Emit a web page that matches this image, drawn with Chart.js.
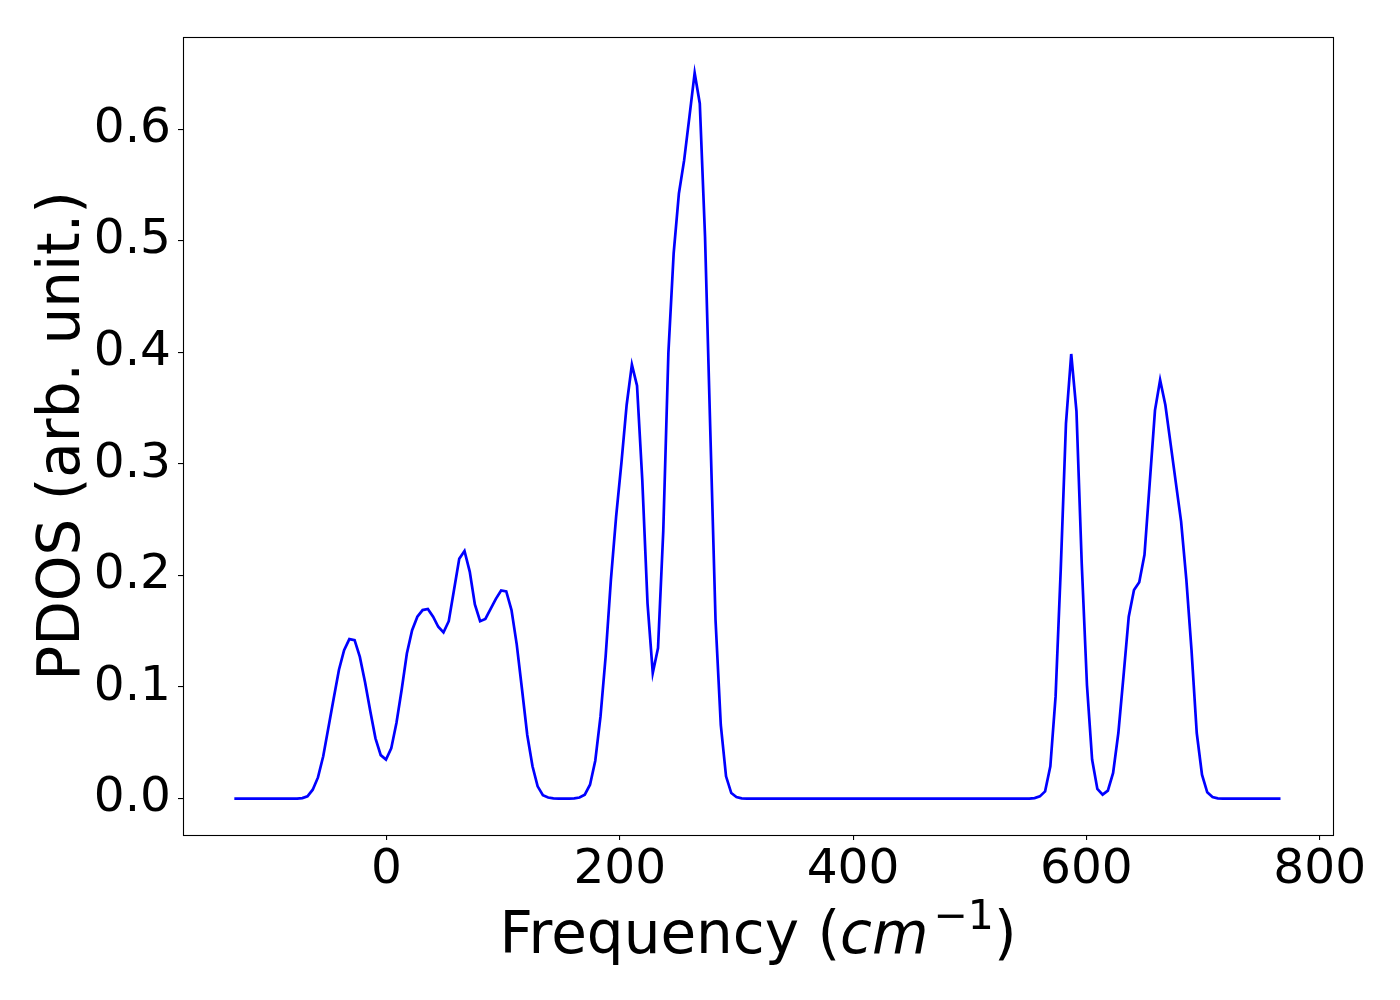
<!DOCTYPE html>
<html>
<head>
<meta charset="utf-8">
<script src="https://cdn.jsdelivr.net/npm/chart.js@4/dist/chart.umd.min.js"></script>
<style>
  html, body { margin: 0; padding: 0; background: #ffffff; }
  #wrap { width: 1400px; height: 1000px; position: relative; }
</style>
</head>
<body>
<div id="wrap"><canvas id="c" width="1400" height="1000"></canvas></div>
<script>
// Frequency grid points (cm^-1) (flat zero stretches keep only their ends)
const freq = [
  -130.4, -76.6, -72.1, -67.7, -63.2, -58.7, -54.2, -49.7, -45.2, -40.7, -36.3,
  -31.8, -27.3, -22.8, -18.3, -13.8, -9.4, -4.9, -0.4, 4.1, 8.6,
  13.1, 17.5, 22.0, 26.5, 31.0, 35.5, 40.0, 44.4, 48.9, 53.4,
  57.9, 62.4, 66.9, 71.4, 75.8, 80.3, 84.8, 89.3, 93.8, 98.3,
  102.7, 107.2, 111.7, 116.2, 120.7, 125.2, 129.6, 134.1, 138.6, 143.1,
  147.6, 156.5, 161.0, 165.5, 170.0, 174.5, 179.0, 183.5, 187.9, 192.4,
  196.9, 201.4, 205.9, 210.4, 214.8, 219.3, 223.8, 228.3, 232.8, 237.3,
  241.7, 246.2, 250.7, 255.2, 259.7, 264.2, 268.6, 273.1, 277.6, 282.1,
  286.6, 291.1, 295.6, 300.0, 304.5, 309.0,
  551.1, 555.6, 560.1, 564.6, 569.1, 573.6, 578.0, 582.5, 587.0, 591.5,
  596.0, 600.5, 604.9, 609.4, 613.9, 618.4, 622.9, 627.4, 631.8, 636.3,
  640.8, 645.3, 649.8, 654.3, 658.8, 663.2, 667.7, 672.2, 676.7, 681.2,
  685.7, 690.1, 694.6, 699.1, 703.6, 708.1, 712.6, 717.0, 766.4
];
// PDOS values (arb. unit.) at those frequencies
const pdos = [
  0, 0, 0.0005, 0.002, 0.008, 0.019, 0.038, 0.064, 0.090, 0.1155, 0.133,
  0.143, 0.142, 0.127, 0.104, 0.078, 0.054, 0.039, 0.035, 0.045, 0.068,
  0.098, 0.130, 0.151, 0.163, 0.169, 0.170, 0.163, 0.154, 0.149, 0.159,
  0.187, 0.215, 0.222, 0.2035, 0.174, 0.159, 0.161, 0.170, 0.179, 0.1865,
  0.1857, 0.169, 0.138, 0.098, 0.057, 0.029, 0.011, 0.003, 0.001, 0.0002,
  0, 0, 0.0003, 0.001, 0.0035, 0.0125, 0.034, 0.0737, 0.1275, 0.196,
  0.253, 0.3006, 0.3528, 0.389, 0.370, 0.2857, 0.175, 0.1126, 0.135, 0.24,
  0.40, 0.4887, 0.5424, 0.5722, 0.611, 0.6504, 0.623, 0.5035, 0.33, 0.16,
  0.066, 0.02, 0.005, 0.0015, 0.0003, 0,
  0, 0.0005, 0.002, 0.0065, 0.029, 0.0916, 0.205, 0.3364, 0.3985, 0.347,
  0.211, 0.1016, 0.035, 0.0087, 0.0036, 0.0072, 0.023, 0.0588, 0.1095, 0.163,
  0.187, 0.194, 0.2185, 0.283, 0.348, 0.3752, 0.3528, 0.318, 0.283, 0.2483,
  0.196, 0.1334, 0.0588, 0.0215, 0.0057, 0.0015, 0.0003, 0, 0
];
const xTicks = [0, 200, 400, 600, 800];
const yTicks = [0.0, 0.1, 0.2, 0.3, 0.4, 0.5, 0.6];
const xTitleMain = 'Frequency (';
const xTitleUnit = 'cm';
const xTitleSup = '\u22121';
const xTitleEnd = ')';
const yTitle = 'PDOS (arb. unit.)';

const FONT = '"DejaVu Sans", "Liberation Sans", sans-serif';

const framePlugin = {
  id: 'frame',
  beforeDraw(chart) {
    const ctx = chart.ctx;
    ctx.save();
    ctx.fillStyle = '#ffffff';
    ctx.fillRect(0, 0, chart.width, chart.height);
    ctx.restore();
  },
  afterDraw(chart) {
    const ctx = chart.ctx;
    const a = chart.chartArea;
    ctx.save();
    ctx.strokeStyle = '#000000';
    ctx.lineWidth = 1.1;
    ctx.strokeRect(Math.round(a.left) + 0.5, Math.round(a.top) + 0.5,
                   Math.round(a.right - a.left), Math.round(a.bottom - a.top));
    ctx.fillStyle = '#000000';
    // x axis title with italic unit and superscript
    const big = 58;
    const fMain = big + 'px ' + FONT;
    const fIt = 'italic ' + big + 'px ' + FONT;
    const fSup = Math.round(big * 0.7) + 'px ' + FONT;
    ctx.font = fMain; const w1 = ctx.measureText(xTitleMain).width; const w4 = ctx.measureText(xTitleEnd).width;
    ctx.font = fIt; const w2 = ctx.measureText(xTitleUnit).width;
    ctx.font = fSup; const w3 = ctx.measureText(xTitleSup).width;
    const gap = 5;
    const total = w1 + w2 + gap + w3 + w4;
    const cx = (a.left + a.right) / 2;
    let x = cx - total / 2;
    const base = 953;
    ctx.textAlign = 'left';
    ctx.textBaseline = 'alphabetic';
    ctx.font = fMain; ctx.fillText(xTitleMain, x, base); x += w1;
    ctx.font = fIt; ctx.fillText(xTitleUnit, x, base); x += w2 + gap;
    ctx.font = fSup; ctx.fillText(xTitleSup, x, base - 24); x += w3;
    ctx.font = fMain; ctx.fillText(xTitleEnd, x, base);
    // y axis title, rotated
    ctx.save();
    ctx.translate(79, (a.top + a.bottom) / 2);
    ctx.rotate(-Math.PI / 2);
    ctx.textAlign = 'center';
    ctx.textBaseline = 'alphabetic';
    ctx.font = fMain;
    ctx.fillText(yTitle, 0, 0);
    ctx.restore();
    ctx.restore();
  }
};

const points = freq.map((f, i) => ({ x: f, y: pdos[i] }));

new Chart(document.getElementById('c'), {
  type: 'line',
  data: {
    datasets: [{
      data: points,
      borderColor: '#0000ff',
      borderWidth: 2.7,
      pointRadius: 0,
      tension: 0,
      fill: false
    }]
  },
  options: {
    responsive: false,
    animation: false,
    devicePixelRatio: 1,
    layout: { padding: { left: 0, top: 37, right: 67, bottom: 0 } },
    plugins: { legend: { display: false }, tooltip: { enabled: false }, title: { display: false } },
    scales: {
      x: {
        type: 'linear',
        min: -174.4,
        max: 811.4,
        afterFit(scale) { scale.height = 165; },
        afterBuildTicks(scale) { scale.ticks = xTicks.map(v => ({ value: v })); },
        border: { display: false },
        grid: { display: true, drawOnChartArea: false, drawTicks: true, tickLength: 5, color: '#000000', lineWidth: 1.1 },
        ticks: {
          color: '#000000',
          font: { family: FONT, size: 48.6 },
          padding: 1,
          maxRotation: 0,
          autoSkip: false,
          callback: (v) => String(v)
        }
      },
      y: {
        type: 'linear',
        min: -0.0326,
        max: 0.6826,
        afterFit(scale) { scale.width = 183; },
        afterBuildTicks(scale) { scale.ticks = yTicks.map(v => ({ value: v })); },
        border: { display: false },
        grid: { display: true, drawOnChartArea: false, drawTicks: true, tickLength: 5, color: '#000000', lineWidth: 1.1 },
        ticks: {
          color: '#000000',
          font: { family: FONT, size: 48.6 },
          padding: 7,
          autoSkip: false,
          callback: (v) => Number(v).toFixed(1)
        }
      }
    }
  },
  plugins: [framePlugin]
});
</script>
</body>
</html>
